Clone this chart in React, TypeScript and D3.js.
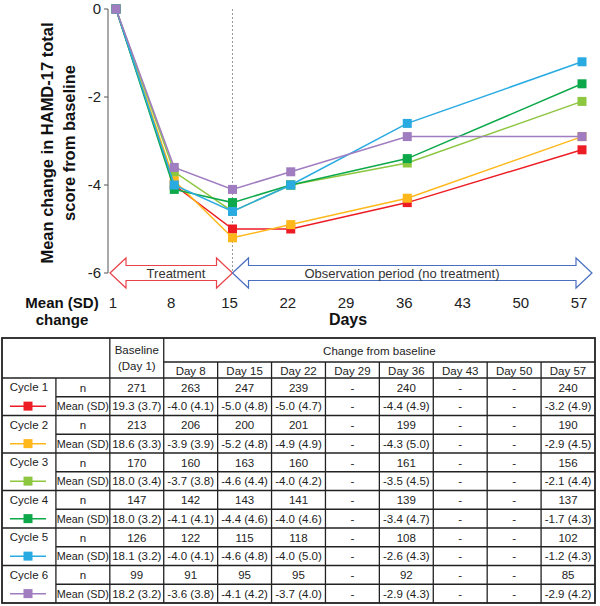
import React from "react";
import * as d3 from "d3";

const DAYS = [1, 8, 15, 22, 36, 57];
const TICK_DAYS = [1, 8, 15, 22, 29, 36, 43, 50, 57];
const Y_TICKS = [0, -2, -4, -6];

const CYCLES = ["Cycle 1", "Cycle 2", "Cycle 3", "Cycle 4", "Cycle 5", "Cycle 6"];
const COLORS = ["#ED1C24", "#FFB81C", "#8DC63F", "#0DA84A", "#29ABE2", "#A07CC0"];

const cycle1 = [0, -4.0, -5.0, -5.0, -4.4, -3.2];
const cycle2 = [0, -3.9, -5.2, -4.9, -4.3, -2.9];
const cycle3 = [0, -3.7, -4.6, -4.0, -3.5, -2.1];
const cycle4 = [0, -4.1, -4.4, -4.0, -3.4, -1.7];
const cycle5 = [0, -4.0, -4.6, -4.0, -2.6, -1.2];
const cycle6 = [0, -3.6, -4.1, -3.7, -2.9, -2.9];
const SERIES = [cycle1, cycle2, cycle3, cycle4, cycle5, cycle6];

const TABLE_DAYS = ["Day 8", "Day 15", "Day 22", "Day 29", "Day 36", "Day 43", "Day 50", "Day 57"];
const N_ROWS = [
  ["271", "263", "247", "239", "-", "240", "-", "-", "240"],
  ["213", "206", "200", "201", "-", "199", "-", "-", "190"],
  ["170", "160", "163", "160", "-", "161", "-", "-", "156"],
  ["147", "142", "143", "141", "-", "139", "-", "-", "137"],
  ["126", "122", "115", "118", "-", "108", "-", "-", "102"],
  ["99", "91", "95", "95", "-", "92", "-", "-", "85"],
];
const MEAN_ROWS = [
  ["19.3 (3.7)", "-4.0 (4.1)", "-5.0 (4.8)", "-5.0 (4.7)", "-", "-4.4 (4.9)", "-", "-", "-3.2 (4.9)"],
  ["18.6 (3.3)", "-3.9 (3.9)", "-5.2 (4.8)", "-4.9 (4.9)", "-", "-4.3 (5.0)", "-", "-", "-2.9 (4.5)"],
  ["18.0 (3.4)", "-3.7 (3.8)", "-4.6 (4.4)", "-4.0 (4.2)", "-", "-3.5 (4.5)", "-", "-", "-2.1 (4.4)"],
  ["18.0 (3.2)", "-4.1 (4.1)", "-4.4 (4.6)", "-4.0 (4.6)", "-", "-3.4 (4.7)", "-", "-", "-1.7 (4.3)"],
  ["18.1 (3.2)", "-4.0 (4.1)", "-4.6 (4.8)", "-4.0 (5.0)", "-", "-2.6 (4.3)", "-", "-", "-1.2 (4.3)"],
  ["18.2 (3.2)", "-3.6 (3.8)", "-4.1 (4.2)", "-3.7 (4.0)", "-", "-2.9 (4.3)", "-", "-", "-2.9 (4.2)"],
];

const FONT = "'Liberation Sans', Arial, sans-serif";

function arrowPath(x0: number, x1: number, cy: number, head: number, hh: number, sh: number) {
  // double-headed block arrow
  return [
    `M${x0},${cy}`,
    `L${x0 + head},${cy - hh}`,
    `L${x0 + head},${cy - sh}`,
    `L${x1 - head},${cy - sh}`,
    `L${x1 - head},${cy - hh}`,
    `L${x1},${cy}`,
    `L${x1 - head},${cy + hh}`,
    `L${x1 - head},${cy + sh}`,
    `L${x0 + head},${cy + sh}`,
    `L${x0 + head},${cy + hh}`,
    "Z",
  ].join(" ");
}

export default function App() {
  const x = d3.scaleLinear().domain([1, 57]).range([116, 582]);
  const y = d3.scaleLinear().domain([0, -6]).range([9, 273]);
  const line = d3.line<number>().x((_, i) => x(DAYS[i])).y((d) => y(d));

  const axisX = 108;
  const y6 = y(-6);

  // table geometry
  const tLeft = 2, tRight = 595, tTop = 338, tBottom = 603;
  const colEdges = d3.range(12).map((i) => tLeft + ((tRight - tLeft) * i) / 11);
  const hdr1 = 362, hdr2 = 378;
  const rowH = (tBottom - hdr2) / 12;
  const rowY = (r: number) => hdr2 + r * rowH;
  const cx = (c: number) => (colEdges[c] + colEdges[c + 1]) / 2;
  const lineCol = "#222";

  return (
    <svg width={600} height={606} style={{ position: "absolute", left: 0, top: 0, background: "#fff" }} fontFamily={FONT}>
      {/* y axis title */}
      <g transform="translate(53,143) rotate(-90)" fontWeight="bold" fontSize={16.5} fill="#111" textAnchor="middle">
        <text x={0} y={0}>Mean change in HAMD-17 total</text>
        <text x={0} y={22}>score from baseline</text>
      </g>

      {/* y axis */}
      <line x1={axisX} x2={axisX} y1={y(0)} y2={y6} stroke="#555" strokeWidth={1} />
      {Y_TICKS.map((t) => (
        <g key={t}>
          <line x1={axisX - 4} x2={axisX} y1={y(t)} y2={y(t)} stroke="#555" />
          <text x={101} y={y(t) + 5} textAnchor="end" fontSize={15} fill="#222">{t}</text>
        </g>
      ))}

      {/* dashed divider */}
      <line x1={x(15)} x2={x(15)} y1={y(0)} y2={y6} stroke="#999" strokeDasharray="2,2" strokeWidth={1} />

      {/* period arrows */}
      <path d={arrowPath(110, x(15), y6, 16, 15, 7.5)} fill="#fff" stroke="#E8434A" strokeWidth={1.2} />
      <path d={arrowPath(x(15), 592, y6, 16, 15, 7.5)} fill="#fff" stroke="#4A6FC0" strokeWidth={1.2} />
      <text x={176} y={y6 + 5} textAnchor="middle" fontSize={13} fill="#333">Treatment</text>
      <text x={402} y={y6 + 5} textAnchor="middle" fontSize={13} fill="#333">Observation period (no treatment)</text>

      {/* series */}
      {SERIES.map((s, si) => (
        <g key={si}>
          <path d={line(s) || ""} fill="none" stroke={COLORS[si]} strokeWidth={1.5} />
          {s.map((v, i) => (
            <rect key={i} x={x(DAYS[i]) - 4.5} y={y(v) - 4.5} width={9} height={9} fill={COLORS[si]} />
          ))}
        </g>
      ))}

      {/* x axis labels */}
      {TICK_DAYS.map((d) => (
        <text key={d} x={x(d) - 3} y={308} textAnchor="middle" fontSize={15} fill="#222">{d}</text>
      ))}
      <text x={62} y={308} textAnchor="middle" fontSize={15} fontWeight="bold" fill="#111">Mean (SD)</text>
      <text x={62} y={325} textAnchor="middle" fontSize={15} fontWeight="bold" fill="#111">change</text>
      <text x={348} y={325} textAnchor="middle" fontSize={16} fontWeight="bold" fill="#111">Days</text>

      {/* table */}
      <g fontSize={11.5} fill="#222" textAnchor="middle">
        <text x={cx(2)} y={354}>Baseline</text>
        <text x={cx(2)} y={370}>(Day 1)</text>
        <text x={(colEdges[3] + colEdges[11]) / 2} y={355}>Change from baseline</text>
        {TABLE_DAYS.map((d, i) => (
          <text key={d} x={cx(3 + i)} y={374.5}>{d}</text>
        ))}
        {CYCLES.map((c, ci) => {
          const yn = rowY(ci * 2);
          const ym = rowY(ci * 2 + 1);
          return (
            <g key={c}>
              <text x={cx(0)} y={yn + 13}>{c}</text>
              <line x1={10} x2={46} y1={ym + rowH / 2} y2={ym + rowH / 2} stroke={COLORS[ci]} strokeWidth={1.5} />
              <rect x={28 - 4.5} y={ym + rowH / 2 - 4.5} width={9} height={9} fill={COLORS[ci]} />
              <text x={cx(1)} y={yn + 13.5}>n</text>
              <text x={cx(1)} y={ym + 13.5} textLength={52} lengthAdjust="spacingAndGlyphs">Mean (SD)</text>
              {N_ROWS[ci].map((v, i) => (
                <text key={"n" + i} x={cx(2 + i)} y={yn + 13.5}>{v}</text>
              ))}
              {MEAN_ROWS[ci].map((v, i) => (
                <text key={"m" + i} x={cx(2 + i)} y={ym + 13.5}>{v}</text>
              ))}
            </g>
          );
        })}
      </g>
      <g stroke={lineCol} strokeWidth={1.3} fill="none">
        <rect x={tLeft} y={tTop} width={tRight - tLeft} height={tBottom - tTop} strokeWidth={1.8} />
        <line x1={colEdges[3]} x2={tRight} y1={hdr1} y2={hdr1} />
        <line x1={tLeft} x2={tRight} y1={hdr2} y2={hdr2} />
        <line x1={colEdges[2]} x2={colEdges[2]} y1={tTop} y2={tBottom} />
        <line x1={colEdges[3]} x2={colEdges[3]} y1={tTop} y2={tBottom} />
        {d3.range(4, 11).map((c) => (
          <line key={c} x1={colEdges[c]} x2={colEdges[c]} y1={hdr1} y2={tBottom} />
        ))}
        <line x1={colEdges[1]} x2={colEdges[1]} y1={hdr2} y2={tBottom} />
        {d3.range(1, 12).map((r) => (
          <line key={r} x1={r % 2 === 0 ? tLeft : colEdges[1]} x2={tRight} y1={rowY(r)} y2={rowY(r)} strokeWidth={r % 2 === 0 ? 1.7 : 1.3} />
        ))}
      </g>
    </svg>
  );
}
